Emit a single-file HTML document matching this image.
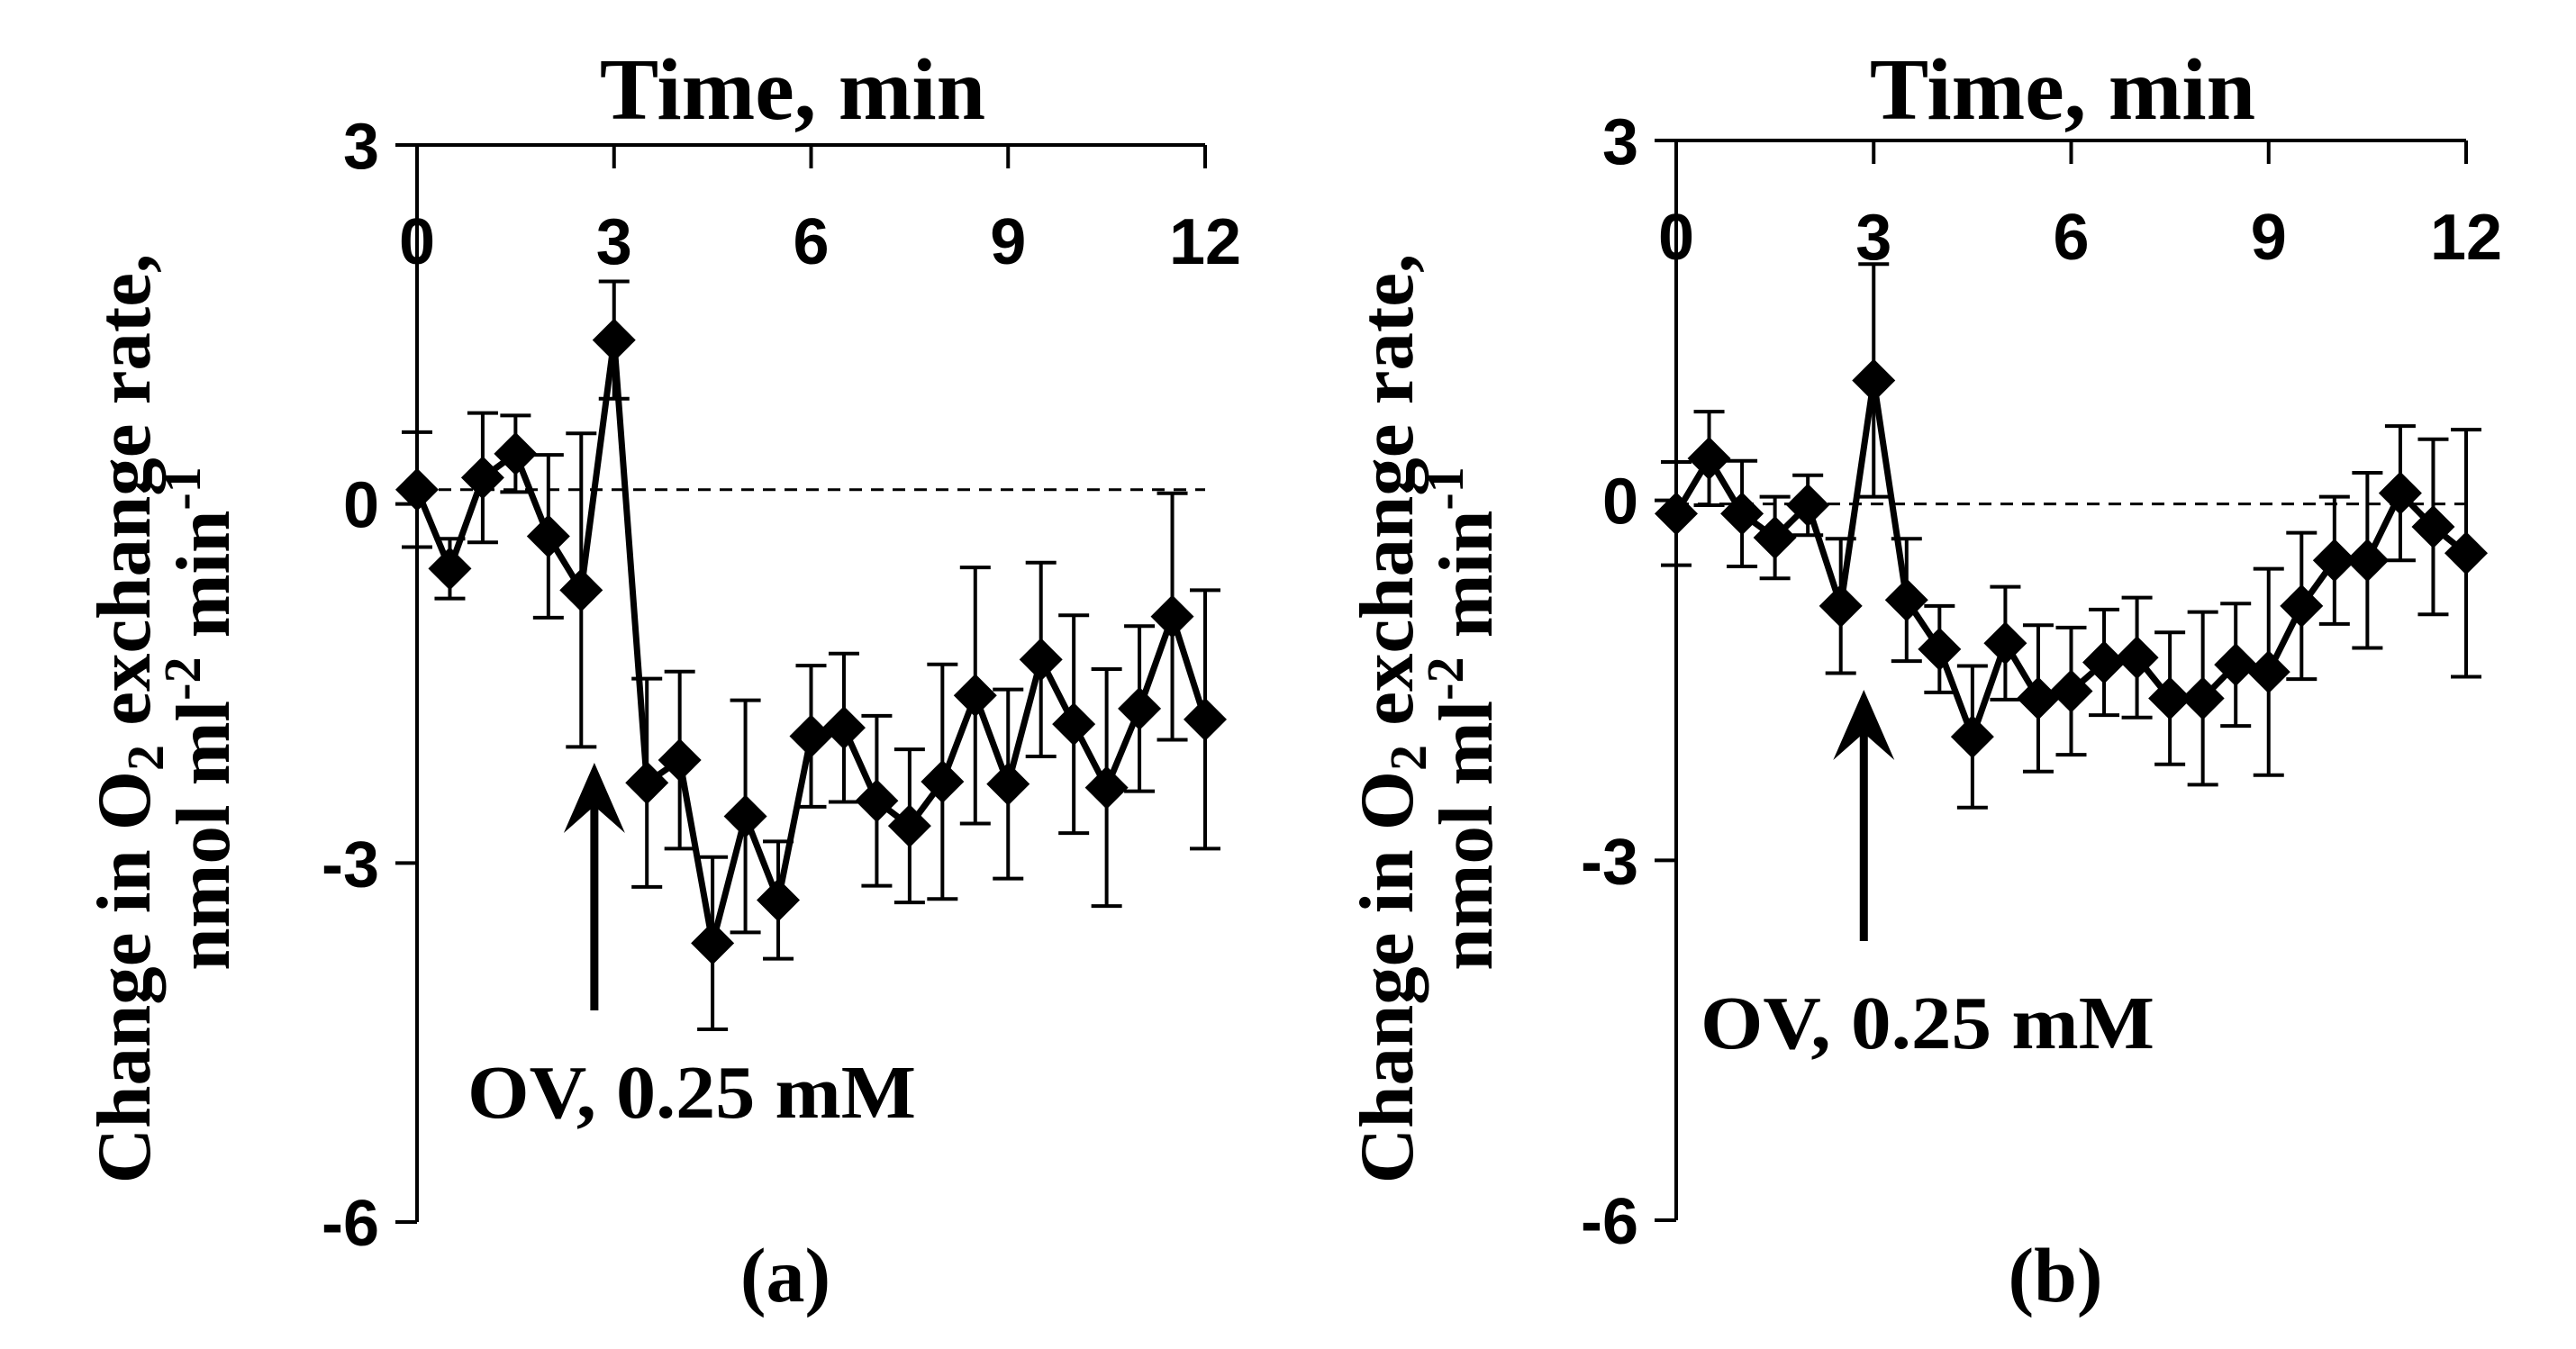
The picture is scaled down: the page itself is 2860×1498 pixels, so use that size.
<!DOCTYPE html>
<html><head><meta charset="utf-8"><style>
html,body{margin:0;padding:0;background:#fff;}
svg{display:block;}
.tk{font-family:"Liberation Sans",Arial,sans-serif;font-weight:bold;font-size:72px;}
.tt{font-family:"Liberation Serif","Times New Roman",serif;font-weight:bold;}
</style></head><body>
<svg id="chart" width="2860" height="1498" viewBox="0 0 2860 1498" xmlns="http://www.w3.org/2000/svg"></svg>
<script>
const timesMin = [0,0.5,1,1.5,2,2.5,3,3.5,4,4.5,5,5.5,6,6.5,7,7.5,8,8.5,9,9.5,10,10.5,11,11.5,12];
const seriesA = [0.12,-0.54,0.22,0.42,-0.27,-0.72,1.37,-2.33,-2.14,-3.67,-2.61,-3.31,-1.94,-1.87,-2.48,-2.69,-2.32,-1.60,-2.34,-1.30,-1.84,-2.37,-1.71,-0.94,-1.80];
const errA = [0.48,0.25,0.54,0.32,0.68,1.31,0.49,0.87,0.74,0.72,0.97,0.49,0.59,0.62,0.71,0.64,0.98,1.07,0.79,0.81,0.91,0.99,0.69,1.03,1.08];
const seriesB = [-0.11,0.35,-0.11,-0.31,-0.04,-0.88,1.0,-0.83,-1.24,-1.97,-1.19,-1.65,-1.59,-1.35,-1.31,-1.65,-1.65,-1.37,-1.43,-0.88,-0.50,-0.50,0.06,-0.22,-0.44];
const errB = [0.43,0.39,0.44,0.34,0.25,0.56,0.97,0.51,0.36,0.59,0.47,0.61,0.53,0.44,0.50,0.55,0.72,0.51,0.86,0.61,0.53,0.73,0.56,0.73,1.03];
const xTicks = [0,3,6,9,12];
const yTicks = [3,0,-3,-6];
const baselineA = 0.12, baselineB = -0.03;
const arrowTimeA = 2.7, arrowTimeB = 2.85;

const NS = "http://www.w3.org/2000/svg";
const svg = document.getElementById('chart');
function mk(tag, attrs, parent, text){
  const e = document.createElementNS(NS, tag);
  for (const k in attrs) e.setAttribute(k, attrs[k]);
  if (text !== undefined) e.textContent = text;
  (parent || svg).appendChild(e);
  return e;
}
function panel(opt){
  const g = mk('g', {});
  
  
  const X = t => opt.x0 + (t - 0) / 12 * (opt.x1 - opt.x0);
  const Y = v => opt.yTop + (3 - v) / 9 * (opt.yBot - opt.yTop);
  const ya = mk('line', {x1:X(0), y1:Y(3), x2:X(0), y2:Y(-6), stroke:'#000','stroke-width':4}, g);
  
  
  const xa = mk('line', {x1:X(0)-24, y1:Y(3), x2:X(12), y2:Y(3), stroke:'#000','stroke-width':4}, g);
  
  
  for (const t of xTicks){
    mk('line', {x1:X(t), y1:Y(3), x2:X(t), y2:Y(3)+26, stroke:'#000','stroke-width':4}, g);
    const l = mk('text', {x:X(t), y:Y(3)+132, 'text-anchor':'middle', class:'tk'}, g, String(t));
    
    
  }
  for (const v of yTicks){
    mk('line', {x1:X(0)-24, y1:Y(v), x2:X(0), y2:Y(v), stroke:'#000','stroke-width':4}, g);
    const l = mk('text', {x:X(0)-42, y:Y(v)+26, 'text-anchor':'end', class:'tk'}, g, String(v));
    
    
  }
  const d = mk('line', {x1:X(0), y1:Y(opt.base), x2:X(12), y2:Y(opt.base), stroke:'#000','stroke-width':3,'stroke-dasharray':'14 10'}, g);
  
  
  opt.vals.forEach((v,i)=>{
    const x = X(timesMin[i]), e = opt.errs[i];
    const eb = mk('path', {d:`M${x},${Y(v+e)}V${Y(v-e)}M${x-17},${Y(v+e)}H${x+17}M${x-17},${Y(v-e)}H${x+17}`, stroke:'#000','stroke-width':4, fill:'none'}, g);
    
    
  });
  const pts = opt.vals.map((v,i)=>X(timesMin[i])+','+Y(v)).join(' ');
  const pl = mk('polyline', {points:pts, fill:'none', stroke:'#000','stroke-width':7,'stroke-linejoin':'miter'}, g);
  
  
  opt.vals.forEach((v,i)=>{
    const x = X(timesMin[i]), y = Y(v), r = 24;
    const m = mk('polygon', {points:`${x},${y-r} ${x+r},${y} ${x},${y+r} ${x-r},${y}`, fill:'#000'}, g);
    
    
  });
  const ax = X(opt.arrowT);
  const ar = mk('path', {d:`M${ax},${opt.arrowBot}V${opt.arrowTop+30}`, stroke:'#000','stroke-width':9}, g);
  
  
  const ah = mk('polygon', {points:`${ax},${opt.arrowTop} ${ax+34},${opt.arrowTop+78} ${ax},${opt.arrowTop+48} ${ax-34},${opt.arrowTop+78}`, fill:'#000'}, g);
  
  
  const ov = mk('text', {x:opt.ovX, y:opt.ovY, class:'tt', 'font-size':84, textLength:opt.ovW, lengthAdjust:'spacingAndGlyphs'}, g, 'OV, 0.25 mM');
  
  
  const tt = mk('text', {x:opt.titleX, y:132, class:'tt', 'font-size':98, 'text-anchor':'middle'}, g, 'Time, min');
  
  
  const yt = mk('text', {transform:`translate(${opt.yl1},798) rotate(-90)`, class:'tt', 'font-size':85, 'text-anchor':'middle'}, g);
  
  
  yt.innerHTML = 'Change in O<tspan font-size="58" dy="15">2</tspan><tspan dy="-15"> exchange rate,</tspan>';
  const yt2 = mk('text', {transform:`translate(${opt.yl2},798) rotate(-90)`, class:'tt', 'font-size':85, 'text-anchor':'middle'}, g);
  
  
  yt2.innerHTML = 'nmol ml<tspan font-size="58" dy="-32">-2</tspan><tspan dy="32"> min</tspan><tspan font-size="58" dy="-32">-1</tspan>';
  const pl2 = mk('text', {x:opt.titleX-8, y:1445, class:'tt', 'font-size':86, 'text-anchor':'middle'}, g, opt.label);
  
  
}
panel({name:'panel-a', x0:463, x1:1338, yTop:161, yBot:1357, vals:seriesA, errs:errA, base:baselineA,
  arrowT:arrowTimeA, arrowTop:847, arrowBot:1122, ovX:519, ovY:1241, ovW:498, titleX:880, yl1:166, yl2:254, label:'(a)'});
panel({name:'panel-b', x0:1861, x1:2738, yTop:156, yBot:1355, vals:seriesB, errs:errB, base:baselineB,
  arrowT:arrowTimeB, arrowTop:766, arrowBot:1045, ovX:1888, ovY:1164, ovW:504, titleX:2290, yl1:1568, yl2:1656, label:'(b)'});
</script>
</body></html>
